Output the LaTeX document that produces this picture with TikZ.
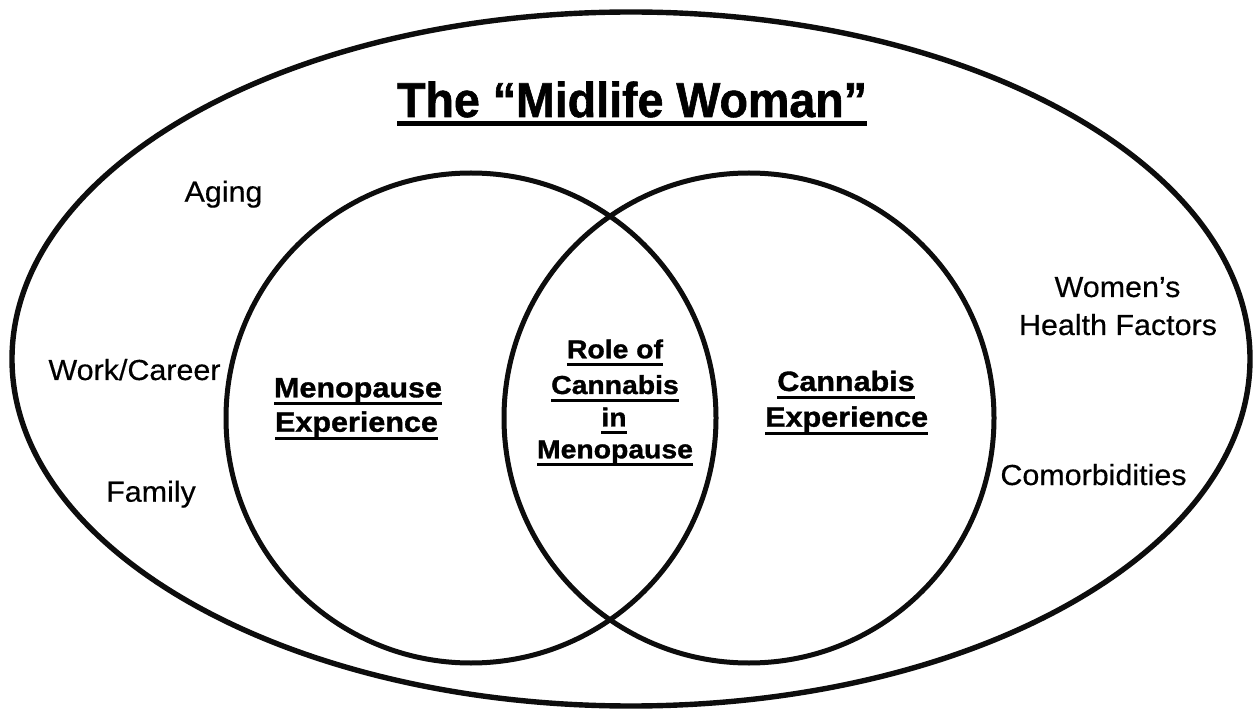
\documentclass[tikz,border=0pt]{standalone}
\usepackage{fontspec}
\setmainfont{Liberation Sans}
\newfontface\titlefont[FakeStretch=0.95,FakeBold=1.2]{Liberation Sans Bold}
\newfontface\labfont[FakeStretch=1.09,FakeBold=1.2]{Liberation Sans Bold}
\newfontface\txtfont[FakeStretch=1.05,FakeBold=0.4]{Liberation Sans}
\newsavebox\myulbox
\newcommand\ulTitle[1]{\sbox\myulbox{#1}\rlap{\vrule width\wd\myulbox height -4.2pt depth 9pt}\usebox\myulbox}
\newcommand\ulLab[1]{\sbox\myulbox{#1}\rlap{\vrule width\wd\myulbox height -5pt depth 8pt}\usebox\myulbox}
\begin{document}
\begin{tikzpicture}[x=1pt,y=-1pt,
  ring/.style={draw=black!95,line width=5pt},
  outer/.style={draw=black!95,line width=5.4pt},
  ttl/.style={anchor=base,inner sep=0pt,font=\titlefont\fontsize{49}{55}\selectfont},
  lab/.style={anchor=base,inner sep=0pt,font=\labfont\fontsize{28}{32}\selectfont},
  clab/.style={anchor=base,inner sep=0pt,font=\labfont\fontsize{26}{30}\selectfont},
  txt/.style={anchor=base,inner sep=0pt,font=\txtfont\fontsize{29}{32}\selectfont}]
\useasboundingbox[fill=white] (0,0) rectangle (1254,711);
% shapes
\draw[outer] (631,359) ellipse [x radius=619, y radius=347];
\draw[ring] (471,418) circle [radius=245];
\draw[ring] (749,418) circle [radius=245];
% title
\node[ttl] (title) at (632,117) {\ulTitle{The “Midlife Woman”}};
% outer labels
\node[txt] (aging) at (223.5,201.7) {Aging};
\node[txt] (work) at (134.5,380) {Work/Career};
\node[txt] (family) at (151,501.7) {Family};
\node[txt] (women1) at (1117.5,297) {Women’s};
\node[txt] (women2) at (1118,335) {Health Factors};
\node[txt] (comorb) at (1093.5,485) {Comorbidities};
% left circle
\node[lab] (meno1) at (358,397.3) {\ulLab{Menopause}};
\node[lab] (meno2) at (356.5,431.7) {\ulLab{Experience}};
% centre
\node[clab] (role1) at (615,358.3) {\ulLab{Role of}};
\node[clab] (role2) at (615,394) {\ulLab{Cannabis}};
\node[clab] (role3) at (614,426.5) {\ulLab{in}};
\node[clab] (role4) at (615,458.3) {\ulLab{Menopause}};
% right circle
\node[lab] (cann1) at (846,391) {\ulLab{Cannabis}};
\node[lab] (cann2) at (846.7,426.7) {\ulLab{Experience}};
\end{tikzpicture}
\end{document}
